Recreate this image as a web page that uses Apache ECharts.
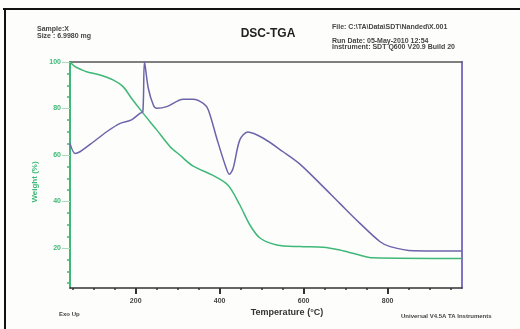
<!DOCTYPE html>
<html>
<head>
<meta charset="utf-8">
<script src="https://cdn.jsdelivr.net/npm/echarts@6/dist/echarts.min.js"></script>
<style>
  html, body { margin: 0; padding: 0; background: #fdfdfc; }
  #chart { width: 520px; height: 329px; }
</style>
</head>
<body>
<div id="chart"></div>
<script>
// TGA curve: temperature (°C) -> weight (%)
const weightTemp = [43.6, 55.5, 70, 83, 115, 146, 170, 190, 218, 250, 282, 305, 336, 384, 420, 448, 472, 496, 536, 591, 646, 686, 726, 765, 976];
const weightPct = [100, 98.0, 96.8, 95.8, 94.4, 92.3, 89.4, 84.4, 77.9, 70.8, 63.6, 60.0, 55.3, 51.2, 47.0, 38.5, 29.9, 24.3, 21.3, 20.6, 20.3, 19.1, 17.3, 15.8, 15.5];

// DSC curve (heat flow, plotted on its own scale, exo up)
const dscTemp = [43.6, 55.5, 67, 99, 131, 163, 190, 210, 217, 221, 230, 242, 250, 274, 313, 337, 361, 373, 393, 413, 423, 432, 448, 467, 504, 551, 591, 639, 686, 734, 782, 806, 861, 976];
const dscSignal = [65.0, 60.7, 61.4, 65.6, 70.0, 73.6, 75.1, 77.9, 78.6, 100, 88.7, 81.5, 80.1, 80.8, 84.0, 84.0, 82.2, 79.4, 67.2, 55.7, 51.7, 54.3, 66.5, 69.9, 67.2, 61.4, 56.1, 47.7, 39.2, 30.6, 22.7, 20.6, 18.8, 18.7];

// ticks
const tempMajor = [200, 400, 600, 800];
const tempMinor = [50, 100, 150, 250, 300, 350, 450, 500, 550, 650, 700, 750, 850, 900, 950];
const weightMajor = [20, 40, 60, 80, 100];
const weightMinor = [5, 10, 15, 25, 30, 35, 45, 50, 55, 65, 70, 75, 85, 90, 95];

const green = '#3fb877';
const purple = '#6c64aa';
const font = 'Liberation Sans, Arial, sans-serif';

const chart = echarts.init(document.getElementById('chart'));

const xMin = 43.6, xMax = 977;
const yMin = 2.8, yMax = 100;

const option = {
  backgroundColor: '#fdfdfc',
  animation: false,
  grid: { left: 70, right: 58, top: 62, bottom: 41 },
  xAxis: [
    {
      // main temperature axis
      type: 'value', position: 'bottom', min: xMin, max: xMax,
      splitLine: { show: false },
      axisLine: { lineStyle: { color: '#333', width: 1.5 } },
      axisTick: { customValues: tempMajor, length: 6, lineStyle: { color: '#333', width: 2 } },
      axisLabel: { customValues: tempMajor, margin: 10, fontSize: 7, fontWeight: 'bold', color: '#444', fontFamily: font }
    },
    {
      // minor ticks only
      type: 'value', position: 'bottom', min: xMin, max: xMax,
      splitLine: { show: false },
      axisLine: { show: false },
      axisTick: { customValues: tempMinor, length: 2, lineStyle: { color: '#333', width: 1.5 } },
      axisLabel: { show: false }
    },
    {
      // top frame
      type: 'value', position: 'top', min: xMin, max: xMax,
      splitLine: { show: false },
      axisLine: { lineStyle: { color: '#555', width: 1.5 } },
      axisTick: { show: false },
      axisLabel: { show: false }
    }
  ],
  yAxis: [
    {
      type: 'value', position: 'left', min: yMin, max: yMax,
      splitLine: { show: false },
      axisLine: { lineStyle: { color: green, width: 2 } },
      axisTick: { customValues: weightMajor, length: 8, lineStyle: { color: '#a9dcbd', width: 1 } },
      axisLabel: { customValues: weightMajor, margin: 9, fontSize: 7, fontWeight: 'bold', color: green, fontFamily: font }
    },
    {
      type: 'value', position: 'left', min: yMin, max: yMax,
      splitLine: { show: false },
      axisLine: { show: false },
      axisTick: { customValues: weightMinor, length: 3, lineStyle: { color: green, width: 1.5 } },
      axisLabel: { show: false }
    },
    {
      // DSC axis
      type: 'value', position: 'right', min: yMin, max: yMax,
      splitLine: { show: false },
      axisLine: { lineStyle: { color: '#7f75c2', width: 2 } },
      axisTick: { show: false },
      axisLabel: { show: false }
    }
  ],
  series: [
    {
      name: 'Weight', type: 'line', xAxisIndex: 0, yAxisIndex: 0,
      data: weightTemp.map((t, i) => [t, weightPct[i]]),
      showSymbol: false, smooth: 0.3,
      lineStyle: { color: green, width: 1.5 }
    },
    {
      name: 'Heat Flow', type: 'line', xAxisIndex: 0, yAxisIndex: 2,
      data: dscTemp.map((t, i) => [t, dscSignal[i]]),
      showSymbol: false, smooth: 0.3,
      lineStyle: { color: purple, width: 1.5 }
    }
  ],
  graphic: [
    { type: 'line', shape: { x1: 3, y1: 9, x2: 520, y2: 9 }, style: { stroke: '#111', lineWidth: 2 } },
    { type: 'line', shape: { x1: 5, y1: 9, x2: 5, y2: 329 }, style: { stroke: '#111', lineWidth: 2 } },
    { type: 'text', x: 37, y: 29, style: { text: 'Sample:X', font: 'bold 7px ' + font, fill: '#444', textVerticalAlign: 'middle' } },
    { type: 'text', x: 37, y: 36, style: { text: 'Size : 6.9980 mg', font: 'bold 7px ' + font, fill: '#444', textVerticalAlign: 'middle' } },
    { type: 'text', x: 268, y: 34, style: { text: 'DSC-TGA', font: 'bold 12px ' + font, fill: '#222', textAlign: 'center', textVerticalAlign: 'middle' } },
    { type: 'text', x: 332, y: 27, style: { text: 'File: C:\\TA\\Data\\SDT\\Nanded\\X.001', font: 'bold 7px ' + font, fill: '#444', textVerticalAlign: 'middle' } },
    { type: 'text', x: 332, y: 41, style: { text: 'Run Date: 05-May-2010 12:54', font: 'bold 7px ' + font, fill: '#444', textVerticalAlign: 'middle' } },
    { type: 'text', x: 332, y: 47, style: { text: 'Instrument: SDT Q600 V20.9 Build 20', font: 'bold 7px ' + font, fill: '#444', textVerticalAlign: 'middle' } },
    { type: 'text', x: 35, y: 182, rotation: Math.PI / 2, style: { text: 'Weight (%)', font: 'bold 8px ' + font, fill: green, textAlign: 'center', textVerticalAlign: 'middle' } },
    { type: 'text', x: 287, y: 313, style: { text: 'Temperature (°C)', font: 'bold 9px ' + font, fill: '#333', textAlign: 'center', textVerticalAlign: 'middle' } },
    { type: 'text', x: 59, y: 314, style: { text: 'Exo Up', font: 'bold 6px ' + font, fill: '#444', textVerticalAlign: 'middle' } },
    { type: 'text', x: 401, y: 316, style: { text: 'Universal V4.5A TA Instruments', font: 'bold 6px ' + font, fill: '#444', textVerticalAlign: 'middle' } }
  ]
};

chart.setOption(option);
</script>
</body>
</html>
